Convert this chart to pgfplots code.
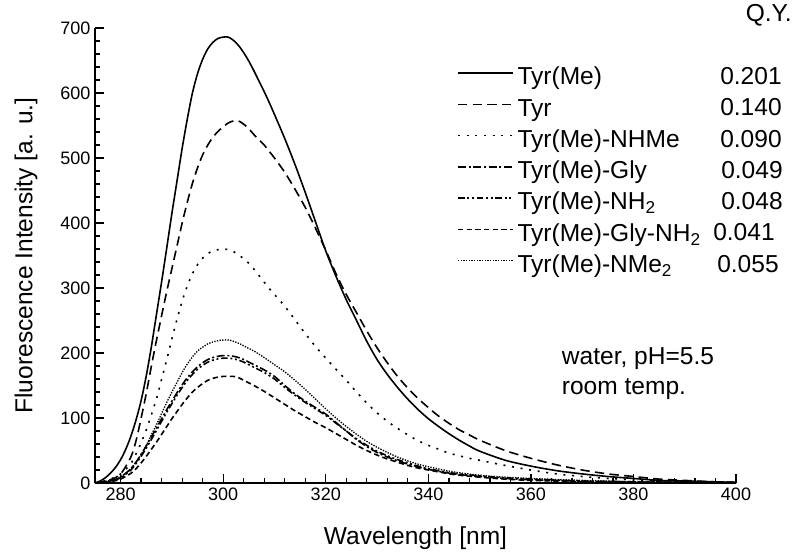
\documentclass[border=0pt]{standalone}
\usepackage{fontspec}
\setmainfont{Liberation Sans}
\usepackage{pgfplots}
\pgfplotsset{compat=1.18}
\usepackage{pgfplotstable}

% spectra, wavelength [nm] vs intensity [a.u.]
\pgfplotstableread{
x y
275 0
276 3
277 8
278 15
279 24
280 36
281 52
282 72
283 97
284 127
285 165
286 210
287 260
288 310
289 362
290 415
291 465
292 515
293 560
294 600
295 630
296 652
297 668
298 678
299 684
300 686
301 686
302 681
303 673
304 662
305 649
306 634
307 618
308 602
309 585
310 567
312 530
314 490
316 447
318 402
320 357
322 318
324 282
326 250
328 218
330 190
332 167
334 147
336 129
338 113
340 99
342 87
344 76
346 66
348 57
350 49
355 35
360 26
365 19
370 14
375 10
380 7
385 4
390 3
395 2
400 1
}\tyrme

\pgfplotstableread{
x y
275 0
276 1
278 5
280 14
282 40
283 65
284 100
285 138
286 180
287 220
288 258
289 295
290 330
291 365
292 400
293 432
294 461
295 485
296 505
297 520
298 532
299 541
300 548
301 554
302 557
303 557
304 552
305 545
306 536
307 528
308 520
309 510
310 500
312 478
314 452
316 424
318 392
320 358
322 322
324 290
326 262
328 234
330 208
332 185
334 164
336 146
338 130
340 116
342 103
344 92
346 82
348 74
350 66
355 50
360 38
365 28
370 20
375 14
380 10
385 6
390 4
395 2
400 1
}\tyr

\pgfplotstableread{
x y
275 0
276 2
278 6
280 14
282 30
283 45
284 62
285 82
286 105
287 130
288 160
289 190
290 222
291 252
292 280
293 303
294 322
295 336
296 346
297 353
298 357
299 359
300 360
301 359
302 356
303 351
304 345
305 338
306 329
307 319
308 309
309 299
310 290
312 272
314 251
316 230
318 210
320 192
322 175
324 158
326 140
328 123
330 108
332 95
334 84
336 74
338 65
340 58
342 52
344 46
346 42
348 38
350 35
355 27
360 20
365 14
370 10
375 7
380 5
385 3
390 2
400 1
}\nhme

\pgfplotstableread{
x y
275 0
276 1
278 3
280 9
282 22
283 32
284 44
285 57
286 71
287 85
288 99
289 113
290 126
291 139
292 151
293 162
294 171
295 179
296 185
297 190
298 193
299 195
300 196
301 196
302 195
303 193
304 190
305 186
306 182
308 174
310 164
312 150
314 137
316 126
318 116
320 106
322 93
324 80
326 67
328 56
330 47
332 40
334 34
336 29
338 25
340 21
345 14
350 10
355 7
360 5
370 3
380 1.5
390 1
400 0.5
}\gly

\pgfplotstableread{
x y
275 0
276 1
278 3
280 8
282 20
283 30
284 41
285 54
286 67
287 81
288 95
289 109
290 122
291 135
292 147
293 158
294 167
295 175
296 181
297 186
298 189
299 191
300 192
301 192
302 191
303 189
304 186
305 182
306 178
308 170
310 160
312 147
314 135
316 124
318 114
320 104
322 92
324 80
326 68
328 58
330 49
332 42
334 36
336 31
338 26
340 22
345 15
350 11
355 8
360 6
370 3
380 2
390 1
400 0.5
}\nhtwo

\pgfplotstableread{
x y
275 0
276 0.5
278 2
280 6
282 15
283 22
284 31
285 41
286 52
287 63
288 75
289 87
290 99
291 110
292 121
293 131
294 140
295 147
296 153
297 158
298 161
299 163
300 164
301 164
302 164
303 162
304 158
305 154
306 150
308 141
310 131
312 121
314 111
316 102
318 93
320 85
322 76
324 67
326 58
328 50
330 43
332 37
334 32
336 27
338 23
340 20
345 13
350 9
355 6
360 4
370 2
380 1
390 0.5
400 0.3
}\glynhtwo

\pgfplotstableread{
x y
275 0
276 1
278 4
280 10
282 22
284 44
285 58
286 74
287 90
288 107
289 124
290 140
291 155
292 170
293 183
294 194
295 203
296 209
297 214
298 217
299 219
300 220
301 220
302 218
303 215
304 211
305 207
306 203
308 193
310 182
312 171
314 158
316 144
318 129
320 114
322 100
324 87
326 75
328 64
330 55
332 47
334 40
336 34
338 29
340 25
345 17
350 12
355 9
360 7
370 4
380 2
390 1
400 0.5
}\nmetwo

\begin{document}
\begin{tikzpicture}
\path[use as bounding box] (-71.25pt,-51pt) rectangle (528.75pt,362.25pt);
\begin{axis}[
    scale only axis,
    width=480.75pt, height=341.25pt,
    xmin=275, xmax=400, ymin=0, ymax=700,
    axis x line=bottom, axis y line=left,
    axis line style={-, line width=1.3pt},
    xtick={280,300,...,400}, minor x tick num=4,
    ytick={0,100,...,700}, minor y tick num=4,
    tick align=inside,
    major tick length=6.5pt, minor tick length=3.5pt,
    tick style={line width=1pt, black},
    /pgf/number format/assume math mode=true,
    ticklabel style={font=\fontsize{13.5}{16}\selectfont},
    xlabel={Wavelength [nm]},
    ylabel={Fluorescence Intensity [a. u.]},
    label style={font=\fontsize{18.4}{22}\selectfont},
    xlabel style={at={(axis description cs:0.5,-0.136)}, anchor=base},
    ylabel style={at={(axis description cs:-0.1076,0.5)}, anchor=center, rotate=0},
    legend cell align=left,
    legend style={draw=none, fill=none, inner sep=0pt,
        at={(271.5pt,312.9pt)}, anchor=north west,
        font=\fontsize{18.4}{22}\selectfont,
        nodes={inner sep=0pt, text height=14pt, text depth=9.45pt}},
    legend image code/.code={\path (0pt,0pt) (44pt,0pt);
        \draw[#1] (0pt,6.5pt) -- (41pt,6.5pt);},
    every axis plot/.append style={black, line width=1.2pt, smooth},
]
\addplot[solid] table {\tyrme};
\addlegendentry{Tyr(Me)}
\addplot[dash pattern=on 7pt off 4pt] table {\tyr};
\addlegendentry{Tyr}
\addplot[dash pattern=on 1.5pt off 5pt] table {\nhme};
\addlegendentry{Tyr(Me)-NHMe}
\addplot[dash pattern=on 6pt off 2pt on 1.5pt off 2pt] table {\gly};
\addlegendentry{Tyr(Me)-Gly}
\addplot[dash pattern=on 5pt off 2pt on 1.5pt off 2pt on 1.5pt off 2pt] table {\nhtwo};
\addlegendentry{Tyr(Me)-NH\textsubscript{2}}
\addplot[dash pattern=on 4pt off 2.5pt] table {\glynhtwo};
\addlegendentry{Tyr(Me)-Gly-NH\textsubscript{2}}
\addplot[line width=1pt, dash pattern=on 1pt off 1pt] table {\nmetwo};
\addlegendentry{Tyr(Me)-NMe\textsubscript{2}}
\end{axis}
\begin{scope}[every node/.style={font=\fontsize{18.4}{22}\selectfont, inner sep=0pt}]
\node[anchor=base east] at (522.75pt,345.75pt) {Q.Y.};
\node[anchor=base west] at (468.75pt,298.9pt) {0.201};
\node[anchor=base west] at (468.75pt,275.4pt) {0.140};
\node[anchor=base west] at (468.75pt,252.0pt) {0.090};
\node[anchor=base west] at (469.5pt,228.5pt) {0.049};
\node[anchor=base west] at (469.5pt,205.05pt) {0.048};
\node[anchor=base west] at (463.5pt,181.6pt) {0.041};
\node[anchor=base west] at (466.5pt,158.1pt) {0.055};
\node[anchor=base west] at (350pt,89.25pt) {water, pH=5.5};
\node[anchor=base west] at (350pt,66.75pt) {room temp.};
\end{scope}
\end{tikzpicture}
\end{document}
